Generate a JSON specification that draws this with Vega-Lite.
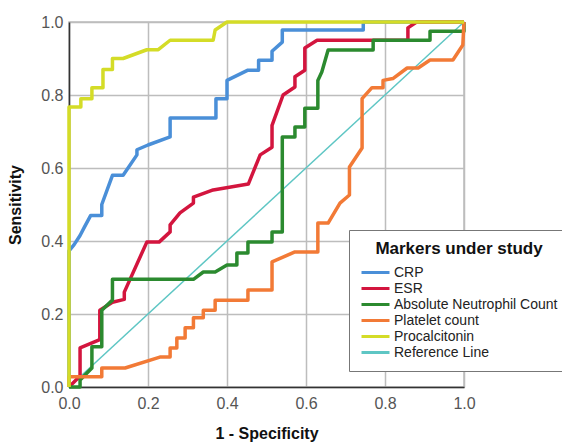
{
  "$schema": "https://vega.github.io/schema/vega-lite/v6.json",
  "width": 395,
  "height": 365,
  "autosize": {"type": "none"},
  "padding": {"left": 69, "top": 22, "right": 98, "bottom": 55},
  "background": "white",
  "config": {"view": {"stroke": "#bdbdbd", "strokeWidth": 1.5}, "font": "Liberation Sans"},
  "datasets": {
    "ref": [
      {"marker": "Reference Line", "x": 0, "y": 0},
      {"marker": "Reference Line", "x": 1, "y": 1}
    ],
    "roc": [
      {"marker": "CRP", "x": 0, "y": 0},
      {"marker": "CRP", "x": 0, "y": 0.373},
      {"marker": "CRP", "x": 0.013, "y": 0.39},
      {"marker": "CRP", "x": 0.028, "y": 0.415},
      {"marker": "CRP", "x": 0.04, "y": 0.44},
      {"marker": "CRP", "x": 0.055, "y": 0.47},
      {"marker": "CRP", "x": 0.083, "y": 0.47},
      {"marker": "CRP", "x": 0.083, "y": 0.5},
      {"marker": "CRP", "x": 0.11, "y": 0.58},
      {"marker": "CRP", "x": 0.137, "y": 0.58},
      {"marker": "CRP", "x": 0.172, "y": 0.636},
      {"marker": "CRP", "x": 0.172, "y": 0.65},
      {"marker": "CRP", "x": 0.2, "y": 0.663},
      {"marker": "CRP", "x": 0.256, "y": 0.685},
      {"marker": "CRP", "x": 0.256, "y": 0.737},
      {"marker": "CRP", "x": 0.372, "y": 0.737},
      {"marker": "CRP", "x": 0.372, "y": 0.79},
      {"marker": "CRP", "x": 0.4, "y": 0.79},
      {"marker": "CRP", "x": 0.4, "y": 0.84},
      {"marker": "CRP", "x": 0.453, "y": 0.868},
      {"marker": "CRP", "x": 0.48, "y": 0.868},
      {"marker": "CRP", "x": 0.48, "y": 0.895},
      {"marker": "CRP", "x": 0.514, "y": 0.895},
      {"marker": "CRP", "x": 0.514, "y": 0.92},
      {"marker": "CRP", "x": 0.54, "y": 0.945},
      {"marker": "CRP", "x": 0.54, "y": 0.978},
      {"marker": "CRP", "x": 0.745, "y": 0.978},
      {"marker": "CRP", "x": 0.745, "y": 1},
      {"marker": "CRP", "x": 1, "y": 1},
      {"marker": "ESR", "x": 0, "y": 0},
      {"marker": "ESR", "x": 0.028, "y": 0.03},
      {"marker": "ESR", "x": 0.028, "y": 0.107},
      {"marker": "ESR", "x": 0.078, "y": 0.13},
      {"marker": "ESR", "x": 0.078, "y": 0.21},
      {"marker": "ESR", "x": 0.11, "y": 0.232},
      {"marker": "ESR", "x": 0.14, "y": 0.24},
      {"marker": "ESR", "x": 0.14, "y": 0.26},
      {"marker": "ESR", "x": 0.197, "y": 0.397},
      {"marker": "ESR", "x": 0.228, "y": 0.397},
      {"marker": "ESR", "x": 0.256, "y": 0.425},
      {"marker": "ESR", "x": 0.256, "y": 0.444},
      {"marker": "ESR", "x": 0.281, "y": 0.477},
      {"marker": "ESR", "x": 0.315, "y": 0.504},
      {"marker": "ESR", "x": 0.315, "y": 0.52},
      {"marker": "ESR", "x": 0.365, "y": 0.54},
      {"marker": "ESR", "x": 0.454, "y": 0.556},
      {"marker": "ESR", "x": 0.484, "y": 0.636},
      {"marker": "ESR", "x": 0.514, "y": 0.657},
      {"marker": "ESR", "x": 0.514, "y": 0.717},
      {"marker": "ESR", "x": 0.542, "y": 0.8},
      {"marker": "ESR", "x": 0.572, "y": 0.822},
      {"marker": "ESR", "x": 0.572, "y": 0.85},
      {"marker": "ESR", "x": 0.597, "y": 0.868},
      {"marker": "ESR", "x": 0.597, "y": 0.929},
      {"marker": "ESR", "x": 0.628, "y": 0.95},
      {"marker": "ESR", "x": 0.858, "y": 0.95},
      {"marker": "ESR", "x": 0.858, "y": 0.984},
      {"marker": "ESR", "x": 0.88, "y": 1},
      {"marker": "ESR", "x": 1, "y": 1},
      {"marker": "Absolute Neutrophil Count", "x": 0, "y": 0},
      {"marker": "Absolute Neutrophil Count", "x": 0.028, "y": 0},
      {"marker": "Absolute Neutrophil Count", "x": 0.028, "y": 0.019},
      {"marker": "Absolute Neutrophil Count", "x": 0.058, "y": 0.052},
      {"marker": "Absolute Neutrophil Count", "x": 0.058, "y": 0.11},
      {"marker": "Absolute Neutrophil Count", "x": 0.083, "y": 0.11},
      {"marker": "Absolute Neutrophil Count", "x": 0.083, "y": 0.21},
      {"marker": "Absolute Neutrophil Count", "x": 0.11, "y": 0.238},
      {"marker": "Absolute Neutrophil Count", "x": 0.11, "y": 0.295},
      {"marker": "Absolute Neutrophil Count", "x": 0.315, "y": 0.295},
      {"marker": "Absolute Neutrophil Count", "x": 0.34, "y": 0.315},
      {"marker": "Absolute Neutrophil Count", "x": 0.37, "y": 0.315},
      {"marker": "Absolute Neutrophil Count", "x": 0.4, "y": 0.334},
      {"marker": "Absolute Neutrophil Count", "x": 0.425, "y": 0.334},
      {"marker": "Absolute Neutrophil Count", "x": 0.425, "y": 0.367},
      {"marker": "Absolute Neutrophil Count", "x": 0.453, "y": 0.367},
      {"marker": "Absolute Neutrophil Count", "x": 0.453, "y": 0.397},
      {"marker": "Absolute Neutrophil Count", "x": 0.514, "y": 0.397},
      {"marker": "Absolute Neutrophil Count", "x": 0.514, "y": 0.425},
      {"marker": "Absolute Neutrophil Count", "x": 0.54, "y": 0.425},
      {"marker": "Absolute Neutrophil Count", "x": 0.54, "y": 0.685},
      {"marker": "Absolute Neutrophil Count", "x": 0.572, "y": 0.685},
      {"marker": "Absolute Neutrophil Count", "x": 0.572, "y": 0.712},
      {"marker": "Absolute Neutrophil Count", "x": 0.597, "y": 0.712},
      {"marker": "Absolute Neutrophil Count", "x": 0.597, "y": 0.764},
      {"marker": "Absolute Neutrophil Count", "x": 0.63, "y": 0.764},
      {"marker": "Absolute Neutrophil Count", "x": 0.63, "y": 0.84},
      {"marker": "Absolute Neutrophil Count", "x": 0.64, "y": 0.863},
      {"marker": "Absolute Neutrophil Count", "x": 0.656, "y": 0.923},
      {"marker": "Absolute Neutrophil Count", "x": 0.77, "y": 0.923},
      {"marker": "Absolute Neutrophil Count", "x": 0.77, "y": 0.95},
      {"marker": "Absolute Neutrophil Count", "x": 0.914, "y": 0.95},
      {"marker": "Absolute Neutrophil Count", "x": 0.914, "y": 0.975},
      {"marker": "Absolute Neutrophil Count", "x": 1, "y": 0.975},
      {"marker": "Absolute Neutrophil Count", "x": 1, "y": 1},
      {"marker": "Platelet count", "x": 0, "y": 0},
      {"marker": "Platelet count", "x": 0, "y": 0.028},
      {"marker": "Platelet count", "x": 0.083, "y": 0.028},
      {"marker": "Platelet count", "x": 0.083, "y": 0.052},
      {"marker": "Platelet count", "x": 0.142, "y": 0.052},
      {"marker": "Platelet count", "x": 0.23, "y": 0.082},
      {"marker": "Platelet count", "x": 0.256, "y": 0.082},
      {"marker": "Platelet count", "x": 0.256, "y": 0.107},
      {"marker": "Platelet count", "x": 0.273, "y": 0.107},
      {"marker": "Platelet count", "x": 0.273, "y": 0.134},
      {"marker": "Platelet count", "x": 0.294, "y": 0.134},
      {"marker": "Platelet count", "x": 0.294, "y": 0.162},
      {"marker": "Platelet count", "x": 0.315, "y": 0.162},
      {"marker": "Platelet count", "x": 0.315, "y": 0.19},
      {"marker": "Platelet count", "x": 0.34, "y": 0.19},
      {"marker": "Platelet count", "x": 0.34, "y": 0.21},
      {"marker": "Platelet count", "x": 0.37, "y": 0.21},
      {"marker": "Platelet count", "x": 0.37, "y": 0.238},
      {"marker": "Platelet count", "x": 0.453, "y": 0.238},
      {"marker": "Platelet count", "x": 0.453, "y": 0.266},
      {"marker": "Platelet count", "x": 0.514, "y": 0.266},
      {"marker": "Platelet count", "x": 0.514, "y": 0.343},
      {"marker": "Platelet count", "x": 0.572, "y": 0.37},
      {"marker": "Platelet count", "x": 0.63, "y": 0.37},
      {"marker": "Platelet count", "x": 0.63, "y": 0.449},
      {"marker": "Platelet count", "x": 0.656, "y": 0.449},
      {"marker": "Platelet count", "x": 0.686, "y": 0.504},
      {"marker": "Platelet count", "x": 0.71, "y": 0.526},
      {"marker": "Platelet count", "x": 0.71, "y": 0.603},
      {"marker": "Platelet count", "x": 0.742, "y": 0.655},
      {"marker": "Platelet count", "x": 0.742, "y": 0.79},
      {"marker": "Platelet count", "x": 0.767, "y": 0.82},
      {"marker": "Platelet count", "x": 0.795, "y": 0.82},
      {"marker": "Platelet count", "x": 0.795, "y": 0.84},
      {"marker": "Platelet count", "x": 0.82, "y": 0.845},
      {"marker": "Platelet count", "x": 0.856, "y": 0.874},
      {"marker": "Platelet count", "x": 0.884, "y": 0.874},
      {"marker": "Platelet count", "x": 0.914, "y": 0.896},
      {"marker": "Platelet count", "x": 0.972, "y": 0.896},
      {"marker": "Platelet count", "x": 0.997, "y": 0.937},
      {"marker": "Platelet count", "x": 1, "y": 1},
      {"marker": "Procalcitonin", "x": 0, "y": 0},
      {"marker": "Procalcitonin", "x": 0, "y": 0.767},
      {"marker": "Procalcitonin", "x": 0.03, "y": 0.767},
      {"marker": "Procalcitonin", "x": 0.03, "y": 0.79},
      {"marker": "Procalcitonin", "x": 0.058, "y": 0.79},
      {"marker": "Procalcitonin", "x": 0.058, "y": 0.82},
      {"marker": "Procalcitonin", "x": 0.086, "y": 0.82},
      {"marker": "Procalcitonin", "x": 0.086, "y": 0.87},
      {"marker": "Procalcitonin", "x": 0.11, "y": 0.87},
      {"marker": "Procalcitonin", "x": 0.11, "y": 0.9},
      {"marker": "Procalcitonin", "x": 0.137, "y": 0.9},
      {"marker": "Procalcitonin", "x": 0.197, "y": 0.924},
      {"marker": "Procalcitonin", "x": 0.226, "y": 0.924},
      {"marker": "Procalcitonin", "x": 0.256, "y": 0.95},
      {"marker": "Procalcitonin", "x": 0.365, "y": 0.95},
      {"marker": "Procalcitonin", "x": 0.37, "y": 0.978},
      {"marker": "Procalcitonin", "x": 0.4, "y": 1},
      {"marker": "Procalcitonin", "x": 1, "y": 1}
    ]
  },
  "encoding": {
    "x": {
      "field": "x", "type": "quantitative",
      "scale": {"domain": [0, 1], "nice": false, "zero": false},
      "axis": {
        "values": [0, 0.2, 0.4, 0.6, 0.8, 1], "format": ".1f",
        "title": "1 - Specificity", "titleFontSize": 16, "titleFontWeight": "bold", "titleColor": "#111",
        "titlePadding": 14, "labelFontSize": 16, "labelColor": "#555", "labelPadding": 8,
        "ticks": false, "domainColor": "#333", "domainWidth": 1.5,
        "grid": true, "gridColor": "#bdbdbd", "gridWidth": 1.5, "labelFlush": false
      }
    },
    "y": {
      "field": "y", "type": "quantitative",
      "scale": {"domain": [0, 1], "nice": false, "zero": false},
      "axis": {
        "values": [0, 0.2, 0.4, 0.6, 0.8, 1], "format": ".1f",
        "title": "Sensitivity", "titleFontSize": 16, "titleFontWeight": "bold", "titleColor": "#111",
        "titlePadding": 17, "labelFontSize": 16, "labelColor": "#555", "labelPadding": 6,
        "ticks": false, "domainColor": "#333", "domainWidth": 1.5,
        "grid": true, "gridColor": "#bdbdbd", "gridWidth": 1.5, "labelFlush": false
      }
    },
    "color": {
      "field": "marker", "type": "nominal",
      "scale": {
        "domain": ["CRP", "ESR", "Absolute Neutrophil Count", "Platelet count", "Procalcitonin", "Reference Line"],
        "range": ["#4a8fd8", "#d3153e", "#2b8a2f", "#f27a36", "#d4dc27", "#5ec6c4"]
      },
      "legend": {
        "orient": "none", "legendX": 280, "legendY": 208,
        "title": "Markers under study", "titleFontSize": 17, "titleFontWeight": "bold", "titleColor": "#111",
        "titleAnchor": "middle", "titlePadding": 6, "titleLimit": 400,
        "labelFontSize": 14, "labelColor": "#222", "labelOffset": 17, "labelLimit": 400,
        "symbolType": "M-1,0H3", "symbolSize": 196, "symbolStrokeWidth": 3,
        "rowPadding": 0, "padding": 11, "strokeColor": "#777", "fillColor": "white"
      }
    },
    "order": {"value": null}
  },
  "layer": [
    {"data": {"name": "ref"}, "mark": {"type": "line", "strokeWidth": 1.5}},
    {"data": {"name": "roc"}, "mark": {"type": "line", "strokeWidth": 3.5, "strokeJoin": "round"}}
  ]
}
